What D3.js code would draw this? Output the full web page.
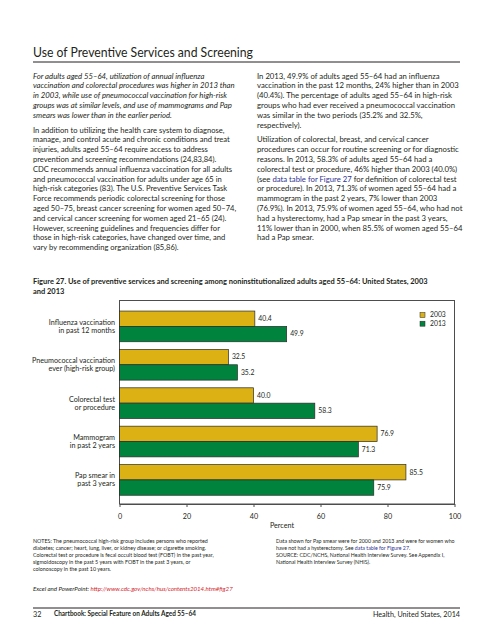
<!DOCTYPE html>
<html><head><meta charset="utf-8">
<script src="https://cdn.jsdelivr.net/npm/d3@7"></script>
<style>
html,body{margin:0;padding:0;background:#fff;}
svg{display:block;}
text{font-family:Lato,"Open Sans",sans-serif;fill:#231f20;}
</style></head><body>
<svg id="c" width="494" height="640"></svg>
<script>
// ---- data ----
const categories = ["Influenza vaccination in past 12 months","Pneumococcal vaccination ever (high-risk group)","Colorectal test or procedure","Mammogram in past 2 years","Pap smear in past 3 years"];
const categoryLines = [["Influenza vaccination","in past 12 months"],["Pneumococcal vaccination","ever (high-risk group)"],["Colorectal test","or procedure"],["Mammogram","in past 2 years"],["Pap smear in","past 3 years"]];
const seriesNames = ["2003","2013"];
const values2003 = [40.4, 32.5, 40.0, 76.9, 85.5];
const values2013 = [49.9, 35.2, 58.3, 71.3, 75.9];
const xTicks = [0,20,40,60,80,100];
const seriesColors = ["#dbb113","#00843d"];

const titleText = "Use of Preventive Services and Screening";
const leftItalic = [
"For adults aged 55\u201364, utilization of annual influenza",
"vaccination and colorectal procedures was higher in 2013 than",
"in 2003, while use of pneumococcal vaccination for high-risk",
"groups was at similar levels, and use of mammograms and Pap",
"smears was lower than in the earlier period."];
const leftBody = [
"In addition to utilizing the health care system to diagnose,",
"manage, and control acute and chronic conditions and treat",
"injuries, adults aged 55\u201364 require access to address",
"prevention and screening recommendations (24,83,84).",
"CDC recommends annual influenza vaccination for all adults",
"and pneumococcal vaccination for adults under age 65 in",
"high-risk categories (83). The U.S. Preventive Services Task",
"Force recommends periodic colorectal screening for those",
"aged 50\u201375, breast cancer screening for women aged 50\u201374,",
"and cervical cancer screening for women aged 21\u201365 (24).",
"However, screening guidelines and frequencies differ for",
"those in high-risk categories, have changed over time, and",
"vary by recommending organization (85,86)."];
const LINK = "#2e3192", RED = "#d2232a";
const rightBody = [
"In 2013, 49.9% of adults aged 55\u201364 had an influenza",
"vaccination in the past 12 months, 24% higher than in 2003",
"(40.4%). The percentage of adults aged 55\u201364 in high-risk",
"groups who had ever received a pneumococcal vaccination",
"was similar in the two periods (35.2% and 32.5%,",
"respectively).",
"Utilization of colorectal, breast, and cervical cancer",
"procedures can occur for routine screening or for diagnostic",
"reasons. In 2013, 58.3% of adults aged 55\u201364 had a",
"colorectal test or procedure, 46% higher than 2003 (40.0%)",
[{t:"(see "},{t:"data table for Figure 27",c:LINK},{t:" for definition of colorectal test"}],
"or procedure). In 2013, 71.3% of women aged 55\u201364 had a",
"mammogram in the past 2 years, 7% lower than 2003",
"(76.9%). In 2013, 75.9% of women aged 55\u201364, who had not",
"had a hysterectomy, had a Pap smear in the past 3 years,",
"11% lower than in 2000, when 85.5% of women aged 55\u201364",
"had a Pap smear."];
const captionLines = [
"Figure 27. Use of preventive services and screening among noninstitutionalized adults aged 55\u201364:  United States, 2003",
"and 2013"];
const notesLeft = [
"NOTES: The pneumococcal high-risk group includes persons who reported",
"diabetes; cancer; heart, lung, liver, or kidney disease; or cigarette smoking.",
"Colorectal test or procedure is fecal occult blood test (FOBT) in the past year,",
"sigmoidoscopy in the past 5 years with FOBT in the past 3 years, or",
"colonoscopy in the past 10 years."];
const notesRight = [
"Data shown for Pap smear were for 2000 and 2013 and were for women who",
[{t:"have not had a hysterectomy. See "},{t:"data table for Figure 27",c:LINK},{t:"."}],
"SOURCE: CDC/NCHS, National Health Interview Survey. See Appendix I,",
"National Health Interview Survey (NHIS)."];
const excelLine = [{t:"Excel and PowerPoint: "},{t:"http://www.cdc.gov/nchs/hus/contents2014.htm#fig27",c:RED}];

// ---- drawing ----
const svg = d3.select("#c");

function textBlock(lines, o){
  const grp = svg.append("g");
  const texts = [];
  let y = o.y;
  lines.forEach((ln, i) => {
    if (o.gapBefore && o.gapBefore.includes(i)) y += o.gap;
    const t = grp.append("text").attr("x", o.x).attr("y", y)
      .attr("font-size", o.size).attr("font-weight", o.weight||400)
      .attr("font-style", o.style||"normal").attr("text-anchor", o.anchor||"start");
    if (o.fill) t.style("fill", o.fill);
    const segs = typeof ln === "string" ? [{t:ln}] : ln;
    segs.forEach(s => { const ts = t.append("tspan").text(s.t); if (s.c) ts.style("fill", s.c); });
    texts.push(t);
    y += o.lh;
  });
  if (o.target) {
    const w = texts[o.ref||0].node().getComputedTextLength();
    const k = o.target / w;
    grp.attr("transform", `translate(${o.x},0) scale(${k},1) translate(${-o.x},0)`);
  }
  return grp;
}

// title + rule
textBlock([titleText], {x:33, y:57.5, lh:0, size:13.5, target:220});
svg.append("line").attr("x1",33).attr("x2",460).attr("y1",62).attr("y2",62).attr("stroke","#231f20").attr("stroke-width",1);

// body columns
textBlock(leftItalic, {x:33, y:78.7, lh:9.8, size:8, style:"italic", ref:1, target:202});
textBlock(leftBody, {x:33, y:78.7+5*9.8+5, lh:9.8, size:8, ref:1, target:197});
textBlock(rightBody, {x:257, y:78.7, lh:9.8, size:8, ref:1, target:202, gapBefore:[6], gap:5});

// caption
textBlock(captionLines, {x:33, y:284.5, lh:9.5, size:8, weight:700, ref:0, target:395});

// chart
const x = d3.scaleLinear().domain([0,100]).range([119.5,454.5]);
const y = d3.scaleBand().domain(categories).range([307.2,499.1]).paddingInner(0.2).paddingOuter(0.1);
const ySub = d3.scaleBand().domain(seriesNames).range([0,y.bandwidth()]);
const boxTop = 300.5, boxBottom = 504;

svg.append("rect").attr("x",x(0)).attr("y",boxTop).attr("width",x(100)-x(0)).attr("height",boxBottom-boxTop)
  .attr("fill","none").attr("stroke","#4d4d4d").attr("stroke-width",1);

const rows = categories.map((c,i)=>({cat:c, lines:categoryLines[i], vals:[values2003[i], values2013[i]]}));
const gRow = svg.selectAll("g.row").data(rows).join("g").attr("class","row")
  .attr("transform", d=>`translate(0,${y(d.cat)})`);
gRow.selectAll("rect").data(d=>d.vals.map((v,j)=>({v, s:seriesNames[j], j}))).join("rect")
  .attr("x", x(0)).attr("y", d=>ySub(d.s)).attr("width", d=>x(d.v)-x(0)).attr("height", ySub.bandwidth())
  .attr("fill", d=>seriesColors[d.j]).attr("stroke","#2a2a2a").attr("stroke-width",0.7);
gRow.selectAll("text.val").data(d=>d.vals.map((v,j)=>({v, s:seriesNames[j]}))).join("text").attr("class","val")
  .attr("x", d=>x(d.v)+3.5).attr("y", d=>ySub(d.s)+ySub.bandwidth()/2+2.4)
  .attr("font-size",6.8).text(d=>d3.format(".1f")(d.v));

// category labels
rows.forEach(r=>{
  const cy = y(r.cat)+y.bandwidth()/2;
  textBlock(r.lines, {x:115, y:cy-4+2.4, lh:8, size:7.2, anchor:"end"});
});

// axis
const axis = d3.axisBottom(x).tickValues(xTicks).tickSize(3).tickSizeOuter(0).tickFormat(d3.format("d"));
const gAx = svg.append("g").attr("transform",`translate(0,${boxBottom})`).call(axis);
gAx.select(".domain").attr("stroke","#4d4d4d");
gAx.selectAll(".tick line").attr("stroke","#4d4d4d");
gAx.selectAll(".tick text").attr("font-size",7.2).attr("font-family",null).attr("fill","#231f20").attr("dy",null).attr("y",14.5);
svg.append("text").attr("x",282).attr("y",528).attr("text-anchor","middle").attr("font-size",7.2).text("Percent");

// legend
seriesNames.forEach((s,j)=>{
  const ly = 312.5 + j*8.7;
  svg.append("rect").attr("x",420).attr("y",ly).attr("width",5).attr("height",5)
    .attr("fill",seriesColors[j]).attr("stroke","#2a2a2a").attr("stroke-width",0.5);
  svg.append("text").attr("x",430).attr("y",ly+4.8).attr("font-size",6.8).text(s);
});

// notes
textBlock(notesLeft, {x:33, y:542.7, lh:7, size:6, ref:0, target:175});
textBlock(notesRight, {x:276, y:542.7, lh:7, size:6, ref:0, target:179, gapBefore:[2], gap:0.8});
textBlock([excelLine], {x:33, y:591.3, lh:0, size:6.5, style:"italic", ref:0, target:200});

// footer
svg.append("line").attr("x1",33).attr("x2",460).attr("y1",608).attr("y2",608).attr("stroke","#231f20").attr("stroke-width",1);
svg.append("text").attr("x",33).attr("y",616.5).attr("font-size",7.2).text("32");
textBlock(["Chartbook: Special Feature on Adults Aged 55\u201364"], {x:54, y:616.5, lh:0, size:7.2, weight:700, target:142});
textBlock(["Health, United States, 2014"], {x:460, y:616.5, lh:0, size:7.2, anchor:"end"});
</script>
</body></html>
